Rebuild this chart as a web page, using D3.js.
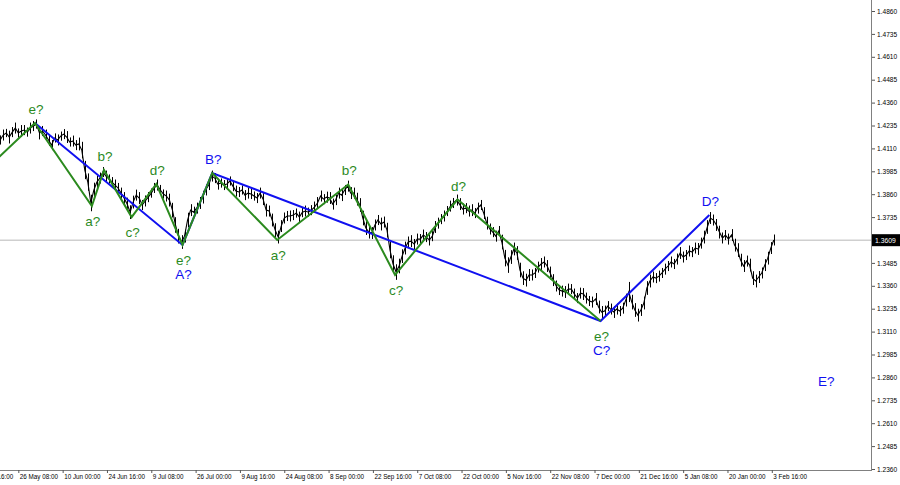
<!DOCTYPE html>
<html><head><meta charset="utf-8">
<script src="https://cdn.jsdelivr.net/npm/d3@7"></script>
<style>
html,body{margin:0;padding:0;background:#fff;}
svg{display:block;}
text{font-family:"Liberation Sans",Arial,sans-serif;}
</style></head>
<body>
<svg id="chart" width="900" height="485"></svg>
<script>
// ---- data ----
// daily closes, bar index of first point and step (H4 bars, 6 per day)
const firstBar = 52;
const barStep = 6;
const closes = [
1.4156,1.4183,1.4194,1.4172,1.4199,1.4221,1.4194,1.4205,1.4210,1.4199,
1.4221,1.4232,1.4243,1.4194,1.4205,1.4183,1.4156,1.4128,1.4167,1.4156,
1.4177,1.4188,1.4172,1.4145,1.4150,1.4128,1.4134,1.4101,1.3992,1.3926,
1.3812,1.3883,1.3926,1.3948,1.3981,1.3959,1.3943,1.3926,1.3910,1.3894,
1.3866,1.3839,1.3806,1.3762,1.3817,1.3855,1.3839,1.3801,1.3823,1.3844,
1.3866,1.3894,1.3910,1.3883,1.3861,1.3850,1.3828,1.3773,1.3692,1.3631,
1.3599,1.3631,1.3719,1.3773,1.3762,1.3784,1.3812,1.3844,1.3883,1.3910,
1.3959,1.3948,1.3915,1.3921,1.3910,1.3915,1.3932,1.3904,1.3877,1.3872,
1.3883,1.3855,1.3866,1.3861,1.3850,1.3839,1.3866,1.3833,1.3773,1.3768,
1.3719,1.3664,1.3626,1.3686,1.3730,1.3741,1.3741,1.3746,1.3757,1.3735,
1.3762,1.3768,1.3762,1.3773,1.3790,1.3812,1.3850,1.3833,1.3844,1.3839,
1.3806,1.3828,1.3866,1.3855,1.3883,1.3904,1.3866,1.3866,1.3833,1.3801,
1.3730,1.3675,1.3653,1.3648,1.3692,1.3719,1.3697,1.3708,1.3664,1.3555,
1.3479,1.3435,1.3468,1.3522,1.3566,1.3599,1.3604,1.3588,1.3615,1.3615,
1.3637,1.3626,1.3610,1.3631,1.3681,1.3702,1.3724,1.3741,1.3768,1.3795,
1.3812,1.3828,1.3806,1.3779,1.3784,1.3768,1.3773,1.3757,1.3784,1.3801,
1.3757,1.3702,1.3670,1.3653,1.3631,1.3659,1.3599,1.3511,1.3473,1.3517,
1.3561,1.3539,1.3446,1.3402,1.3391,1.3419,1.3419,1.3430,1.3462,1.3479,
1.3490,1.3468,1.3430,1.3391,1.3359,1.3337,1.3331,1.3326,1.3342,1.3342,
1.3315,1.3293,1.3320,1.3315,1.3293,1.3277,1.3271,1.3288,1.3244,1.3217,
1.3222,1.3249,1.3233,1.3217,1.3233,1.3222,1.3238,1.3282,1.3326,1.3271,
1.3228,1.3200,1.3228,1.3266,1.3348,1.3386,1.3408,1.3402,1.3413,1.3430,
1.3451,1.3468,1.3490,1.3479,1.3506,1.3539,1.3517,1.3528,1.3550,1.3544,
1.3566,1.3561,1.3593,1.3626,1.3681,1.3730,1.3719,1.3692,1.3653,1.3621,
1.3637,1.3615,1.3637,1.3582,1.3555,1.3500,1.3468,1.3495,1.3473,1.3402,
1.3386,1.3408,1.3430,1.3473,1.3511,1.3566,1.3610
];
const rangesPips = [
50,60,45,70,55,60,50,65,55,50, 60,55,50,70,55,60,65,55,50,60,
50,55,65,50,60,55,70,90,100,95, 90,80,70,60,55,60,50,55,60,55,
60,65,70,75,70,60,65,55,60,55, 50,55,60,55,50,60,70,80,85,80,
75,70,80,65,60,60,65,70,60,55, 60,55,60,50,55,60,50,55,60,55,
50,55,60,55,50,55,60,65,70,60, 70,75,70,65,60,55,60,55,50,60,
55,60,50,55,60,65,60,55,60,65, 60,55,60,65,55,60,65,60,70,75,
80,75,70,65,60,55,70,60,80,90, 95,85,80,75,70,60,65,55,60,55,
60,55,60,55,65,60,55,60,55,60, 55,60,65,60,55,60,65,55,60,55,
65,70,60,55,60,55,80,90,85,75, 70,75,80,75,70,65,60,55,60,65,
60,65,70,65,60,55,60,65,60,55, 60,55,60,65,60,55,60,65,70,65,
60,55,60,65,60,55,60,70,110,80, 75,70,65,70,75,70,60,55,60,55,
60,55,60,55,60,65,60,55,60,55, 60,65,60,70,75,65,60,65,70,60,
55,60,65,70,75,70,65,60,70,75, 70,65,60,65,70,65,60
];
const lastPrice = "1.3609";
const lastPriceValue = 1.3609;

// x-axis tick labels, one every 88 H4 bars starting at bar 0
const timeLabels = ["11 May 16:00","26 May 08:00","10 Jun 00:00","24 Jun 16:00","9 Jul 08:00",
 "26 Jul 00:00","9 Aug 16:00","24 Aug 08:00","8 Sep 00:00","22 Sep 16:00","7 Oct 08:00",
 "22 Oct 00:00","5 Nov 16:00","22 Nov 08:00","7 Dec 00:00","21 Dec 16:00","5 Jan 08:00",
 "20 Jan 00:00","3 Feb 16:00"];
const barsPerLabel = 88;
const priceTicks = ["1.4860","1.4735","1.4610","1.4485","1.4360","1.4235","1.4110","1.3985",
 "1.3860","1.3735","1.3485","1.3360","1.3235","1.3110","1.2985","1.2860","1.2735",
 "1.2610","1.2485","1.2360"];

// wave count (bar index, price)
const greenBars   = [34, 121, 234, 258, 313, 362, 414, 473, 602, 743, 836, 960, 1244];
const greenPrices = [1.4022,1.4249,1.3795,1.3992,1.3735,1.3916,1.3583,1.3976,1.3610,1.3913,1.3419,1.3831,1.3168];
const blueBars    = [121, 414, 473, 1244, 1460];
const bluePrices  = [1.4249,1.3583,1.3976,1.3168,1.3746];

const labelText  = ["e?","a?","b?","c?","d?","e?","A?","B?","a?","b?","c?","d?","e?","C?","D?","E?"];
const labelBar   = [121,234,258,313,362,414,414,473,602,743,836,960,1244,1244,1460,1690];
const labelPrice = [1.4249,1.3795,1.3992,1.3735,1.3916,1.3583,1.3583,1.3976,1.3610,1.3913,1.3419,1.3831,1.3168,1.3168,1.3746,1.2840];
const labelWave  = ["g","g","g","g","g","g","b","b","g","g","g","g","g","b","b","b"];
const labelSide  = ["up","down","up","down","up","down","down2","up","down","up","down","up","down","down2","up","mid"];

// ---- drawing ----
const plotRight = 871, plotBottom = 470;
const svg = d3.select("#chart");

const x = d3.scaleLinear().domain([0, barsPerLabel*18]).range([-26, 771.8]);
const y = d3.scaleLinear().domain([1.2360, 1.4860]).range([469, 11]);

const GREEN = "#2b8a1e", BLUE = "#1010f0";

svg.append("defs").append("clipPath").attr("id","plot")
  .append("rect").attr("x",0).attr("y",0).attr("width",plotRight).attr("height",plotBottom);

const g = svg.append("g").attr("clip-path","url(#plot)");

// last price line
g.append("line").attr("x1",0).attr("x2",plotRight)
  .attr("y1",y(lastPriceValue)).attr("y2",y(lastPriceValue))
  .attr("stroke","#cfcfcf").attr("stroke-width",1.5);

// price series
const series = closes.map((v,i)=>({b: firstBar + i*barStep, v, r: rangesPips[i]*0.0001}));
g.append("path").datum(series)
  .attr("fill","none").attr("stroke","#000").attr("stroke-width",1.1)
  .attr("d", d3.line().x(d=>x(d.b)).y(d=>y(d.v)));
g.append("g").selectAll("line").data(series).join("line")
  .attr("x1",d=>Math.round(x(d.b))+0.5).attr("x2",d=>Math.round(x(d.b))+0.5)
  .attr("y1",d=>y(d.v + d.r*0.5)).attr("y2",d=>y(d.v - d.r*0.5))
  .attr("stroke","#000").attr("stroke-width",1);

// waves
const lineGen = d3.line().x(d=>x(d[0])).y(d=>y(d[1]));
g.append("path").datum(blueBars.map((b,i)=>[b,bluePrices[i]]))
  .attr("fill","none").attr("stroke",BLUE).attr("stroke-width",2).attr("d",lineGen);
g.append("path").datum(greenBars.map((b,i)=>[b,greenPrices[i]]))
  .attr("fill","none").attr("stroke",GREEN).attr("stroke-width",2).attr("d",lineGen);

// labels
const dyMap = {up:-9, down:20, down2:34, mid:5};
svg.append("g").selectAll("text").data(labelText).join("text")
  .attr("x",(d,i)=>x(labelBar[i]) + 1)
  .attr("y",(d,i)=>y(labelPrice[i]) + dyMap[labelSide[i]])
  .attr("text-anchor","middle")
  .attr("font-size",13.5)
  .attr("fill",(d,i)=>labelWave[i]==="g" ? GREEN : BLUE)
  .text(d=>d);

// axes lines
svg.append("line").attr("x1",plotRight+0.5).attr("x2",plotRight+0.5).attr("y1",0).attr("y2",plotBottom)
  .attr("stroke","#808080").attr("stroke-width",1);
svg.append("line").attr("x1",0).attr("x2",plotRight+1).attr("y1",plotBottom+0.5).attr("y2",plotBottom+0.5)
  .attr("stroke","#808080").attr("stroke-width",1);

// right axis
const yAxis = d3.axisRight(y).tickValues(priceTicks.map(Number)).tickSize(3).tickPadding(2)
  .tickFormat((d,i)=>priceTicks[i]);
const ya = svg.append("g").attr("transform",`translate(${plotRight+1},0)`).call(yAxis);
ya.select(".domain").remove();
ya.selectAll("line").attr("stroke","#555");
ya.selectAll("text").attr("font-size",6.6).attr("fill","#000").attr("font-family","'Liberation Sans',Arial,sans-serif");

// price label box
const pb = svg.append("g").attr("transform",`translate(${plotRight+1},${y(lastPriceValue)})`);
pb.append("rect").attr("x",0).attr("y",-6).attr("width",28).attr("height",12).attr("fill","#000");
pb.append("text").attr("x",3).attr("y",2.5).attr("font-size",6.8).attr("fill","#fff").text(lastPrice);

// bottom axis
const xAxis = d3.axisBottom(x).tickValues(timeLabels.map((d,i)=>i*barsPerLabel)).tickSize(3).tickPadding(2)
  .tickFormat((d,i)=>timeLabels[i]);
const xa = svg.append("g").attr("transform",`translate(0,${plotBottom})`).call(xAxis);
xa.select(".domain").remove();
xa.selectAll("line").attr("stroke","#555");
xa.selectAll("text").attr("text-anchor","start").attr("dx",1).attr("font-size",6.3).attr("fill","#000")
  .attr("font-family","'Liberation Sans',Arial,sans-serif");
</script>
</body></html>
